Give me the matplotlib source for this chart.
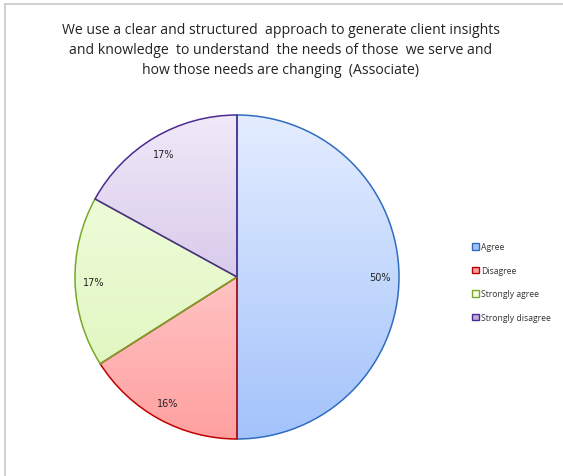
import matplotlib.pyplot as plt
import numpy as np
from matplotlib.colors import LinearSegmentedColormap
from matplotlib.patches import Patch
from matplotlib.lines import Line2D

title = ("We use a clear and structured  approach to generate client insights\n"
         "and knowledge  to understand  the needs of those  we serve and\n"
         "how those needs are changing  (Associate)")
labels = ['Agree', 'Disagree', 'Strongly agree', 'Strongly disagree']
values = [50, 16, 17, 17]

# top / bottom of the vertical gradient, and the outline colour
light = ['#e4edff', '#ffe6e6', '#f4ffe4', '#f0e9f8']
dark = ['#a3c3fb', '#ffa0a0', '#dcf4b8', '#c2acde']
edges = ['#2f6cc0', '#c00000', '#78a82a', '#4b2a92']

W, H = 563, 477
fig = plt.figure(figsize=(W / 100, H / 100), dpi=100)

cx, cy, r = 237, 278, 162
ax = fig.add_axes([(cx - r) / W, (H - cy - r) / H, 2 * r / W, 2 * r / H])

wedges, texts, autotexts = ax.pie(values, startangle=90, counterclock=False,
                                  autopct='%.0f%%', pctdistance=0.885,
                                  radius=1.0,
                                  textprops=dict(fontsize=7, color='#222222',
                                                 family='DejaVu Sans'))

grad = np.linspace(0, 1, 256).reshape(-1, 1)
for w, lo, hi, ec in zip(wedges, light, dark, edges):
    w.set_facecolor('none')
    w.set_edgecolor(ec)
    w.set_linewidth(1.1)
    w.set_zorder(3)
    cmap = LinearSegmentedColormap.from_list('g', [lo, hi])
    im = ax.imshow(grad, cmap=cmap, extent=(-1, 1, -1, 1), origin='upper',
                   aspect='auto', zorder=1, interpolation='bilinear')
    im.set_clip_path(w)
for t in autotexts:
    t.set_zorder(5)
ax.set_xlim(-1, 1)
ax.set_ylim(-1, 1)
ax.axis('off')

handles = [Patch(facecolor=lo, edgecolor=ec, linewidth=1.0)
           for lo, ec in zip([dark[0], dark[1], light[2], dark[3]], edges)]
fig.legend(handles, labels, loc='upper left', bbox_to_anchor=(469 / W, 1 - 240 / H),
           frameon=False, handlelength=0.8, handleheight=0.8,
           handletextpad=0.2, labelspacing=1.68, borderaxespad=0,
           labelcolor='#333333', prop=dict(family='Open Sans', size=6.2))

fig.text(281 / W, 1 - 23 / H, title, ha='center', va='top', fontsize=10.1,
         family='Open Sans', color='#222222', linespacing=1.45)

# thin frame on the top and left
fig.add_artist(Line2D([4.5 / W, 4.5 / W], [0, 1 - 4.5 / H], color='#c8c8c8', lw=1.2))
fig.add_artist(Line2D([4.5 / W, 1], [1 - 4.5 / H, 1 - 4.5 / H], color='#c8c8c8', lw=1.2))

fig.savefig('out.png', dpi=100, facecolor='white')
